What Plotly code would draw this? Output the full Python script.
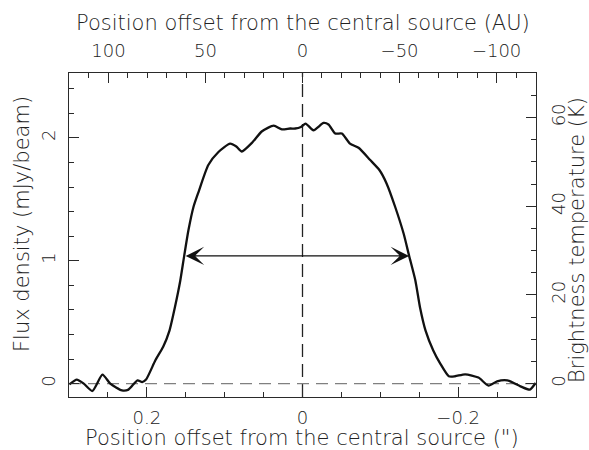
import plotly.graph_objects as go

# ---- data ----
offset_arcsec = [0.2995, 0.290, 0.281, 0.270, 0.257, 0.247, 0.232, 0.2236, 0.212, 0.206, 0.201,
                 0.189, 0.179, 0.171, 0.164, 0.157, 0.152, 0.1465, 0.140, 0.1336, 0.121, 0.108,
                 0.093, 0.085, 0.078, 0.065, 0.052, 0.037, 0.0265, 0.0158, 0.0094, 0.002,
                 -0.004, -0.0141, -0.027, -0.0334, -0.042, -0.0506, -0.061, -0.072, -0.087,
                 -0.099, -0.108, -0.119, -0.130, -0.137, -0.145, -0.151, -0.158, -0.168,
                 -0.177, -0.188, -0.196, -0.209, -0.226, -0.239, -0.250, -0.263, -0.280,
                 -0.292, -0.2995]
flux_mjy = [-0.006, 0.033, 0.0, -0.060, 0.073, 0.0, -0.055, -0.049, 0.027, 0.013, 0.033,
            0.19, 0.30, 0.43, 0.62, 0.84, 1.04, 1.25, 1.44, 1.56, 1.78, 1.886,
            1.954, 1.93, 1.89, 1.96, 2.055, 2.10, 2.07, 2.077, 2.077, 2.09,
            2.117, 2.063, 2.122, 2.11, 2.036, 2.036, 1.954, 1.92, 1.82,
            1.737, 1.63, 1.44, 1.22, 1.04, 0.84, 0.62, 0.434, 0.27,
            0.163, 0.06, 0.06, 0.076, 0.049, -0.016, 0.019, 0.027, -0.022,
            -0.049, 0.005]

fwhm_level = 1.04
fwhm_left = 0.152
fwhm_right = -0.137

x_range = [0.3, -0.3]
y_range = [-0.109, 2.529]
AU_PER_ARCSEC = 401.0
K_PER_MJY = 27.7

bottom_ticks = [0.2, 0.0, -0.2]
bottom_labels = ["0.2", "0", "\u22120.2"]
top_ticks = [100, 50, 0, -50, -100]
top_labels = ["100", "50", "0", "\u221250", "\u2212100"]
left_ticks = [0, 1, 2]
right_ticks = [0, 20, 40, 60]

title_bottom = "Position offset from the central source (\")"
title_top = "Position offset from the central source (AU)"
title_left = "Flux density (mJy/beam)"
title_right = "Brightness temperature (K)"

FONT = "DejaVu Sans"
fcol = "#222222"
acol = "#2a2a2a"

W, H = 589, 450
ML, MR, MT, MB = 69, 53, 73, 53
PW, PH = W - ML - MR, H - MT - MB


def px2paper(px, py):
    return (px - ML) / PW, (H - MB - py) / PH


fig = go.Figure()

fig.add_trace(go.Scatter(x=offset_arcsec, y=flux_mjy, mode="lines",
                         line=dict(color="#111111", width=2.3, shape="spline", smoothing=0.6),
                         showlegend=False, hoverinfo="skip"))
# invisible trace for the secondary axes
fig.add_trace(go.Scatter(x=[x_range[0] * AU_PER_ARCSEC], y=[0], xaxis="x2", yaxis="y2",
                         mode="markers", marker=dict(opacity=0), showlegend=False,
                         hoverinfo="skip"))

# zero level (gray dashed) and centre (black dashed)
fig.add_shape(type="line", xref="x", yref="y", x0=x_range[0], x1=x_range[1], y0=0, y1=0,
              line=dict(color="#808080", width=1.3, dash="12px,7px"), layer="below")
fig.add_shape(type="line", xref="x", yref="paper", x0=0, x1=0, y0=0, y1=1,
              line=dict(color="#222222", width=1.3, dash="13px,7px"), layer="below")

# FWHM double arrow
fig.add_annotation(x=fwhm_right, y=fwhm_level, ax=fwhm_left, ay=fwhm_level,
                   xref="x", yref="y", axref="x", ayref="y", text="",
                   showarrow=True, arrowhead=3, startarrowhead=3, arrowside="end+start",
                   arrowwidth=1.4, arrowsize=2.2, startarrowsize=2.2,
                   arrowcolor="#111111", standoff=0, startstandoff=0)

titlefont = dict(family=FONT, size=21, color=fcol, weight=200)
tickfont = dict(family=FONT, size=18, color=fcol, weight=200)

for text, (px, py), ang in [
    (title_top, (303, 23), 0),
    (title_bottom, (302, 438), 0),
    (title_left, (22, 224), -90),
    (title_right, (577, 240), -90),
]:
    xp, yp = px2paper(px, py)
    fig.add_annotation(x=xp, y=yp, xref="paper", yref="paper", text=text, showarrow=False,
                       textangle=ang, font=titlefont, xanchor="center", yanchor="middle")

common = dict(showgrid=False, zeroline=False, showline=True, linecolor=acol, linewidth=1,
              ticks="inside", tickcolor=acol, tickwidth=1, ticklen=10, tickfont=tickfont,
              automargin=False)

fig.update_layout(
    width=W, height=H,
    margin=dict(l=ML, r=MR, t=MT, b=MB, autoexpand=False),
    paper_bgcolor="white", plot_bgcolor="white",
    xaxis=dict(range=x_range, tickmode="array", tickvals=bottom_ticks, ticktext=bottom_labels,
               minor=dict(dtick=0.05, ticklen=5, tickcolor=acol, ticks="inside"),
               ticklabelstandoff=4, **common),
    xaxis2=dict(range=[x_range[0] * AU_PER_ARCSEC, x_range[1] * AU_PER_ARCSEC],
                overlaying="x", side="top", anchor="y", tickmode="array",
                tickvals=top_ticks, ticktext=top_labels,
                minor=dict(dtick=10, ticklen=5, tickcolor=acol, ticks="inside"),
                ticklabelstandoff=8, **common),
    yaxis=dict(range=y_range, tickmode="array", tickvals=left_ticks, tickangle=-90,
               minor=dict(dtick=0.2, ticklen=5, tickcolor=acol, ticks="inside"),
               ticklabelstandoff=6, **common),
    yaxis2=dict(range=[y_range[0] * K_PER_MJY, y_range[1] * K_PER_MJY], overlaying="y",
                side="right", anchor="x", tickmode="array", tickvals=right_ticks, tickangle=-90,
                minor=dict(dtick=5, ticklen=5, tickcolor=acol, ticks="inside"),
                ticklabelstandoff=6, **common),
)

fig.write_html("out.html", config={"displayModeBar": False, "staticPlot": True},
               post_script="document.body.style.margin='0';document.body.style.overflow='hidden';")
